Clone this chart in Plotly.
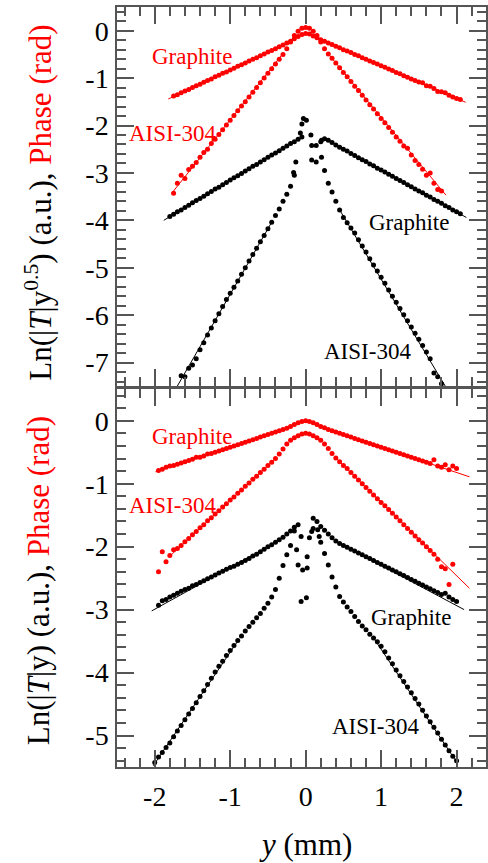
import plotly.graph_objects as go

# scan positions (mm), shared by all measured series
Y_POS = [-2.00, -1.95, -1.90, -1.85, -1.80, -1.75, -1.70, -1.65, -1.60, -1.55,
         -1.50, -1.45, -1.40, -1.35, -1.30, -1.25, -1.20, -1.15, -1.10, -1.05,
         -1.00, -0.95, -0.90, -0.85, -0.80, -0.75, -0.70, -0.65, -0.60, -0.55,
         -0.50, -0.45, -0.40, -0.35, -0.30, -0.25, -0.20, -0.15, -0.10, -0.05,
         0.00, 0.05, 0.10, 0.15, 0.20, 0.25, 0.30, 0.35, 0.40, 0.45,
         0.50, 0.55, 0.60, 0.65, 0.70, 0.75, 0.80, 0.85, 0.90, 0.95,
         1.00, 1.05, 1.10, 1.15, 1.20, 1.25, 1.30, 1.35, 1.40, 1.45,
         1.50, 1.55, 1.60, 1.65, 1.70, 1.75, 1.80, 1.85, 1.90, 1.95,
         2.00, 2.05]

# --- upper panel: Ln(|T| y^0.5) and phase ---
TOP_PHASE_GRAPHITE = [None, None, None, None, None, -1.38, -1.35, -1.31, -1.27, -1.24,
                      -1.20, -1.16, -1.13, -1.09, -1.05, -1.02, -0.97, -0.94, -0.90, -0.87,
                      -0.83, -0.79, -0.75, -0.72, -0.68, -0.64, -0.60, -0.57, -0.53, -0.49,
                      -0.45, -0.42, -0.38, -0.34, -0.30, -0.26, -0.22, -0.17, -0.12, -0.08,
                      -0.06, -0.07, -0.11, -0.15, -0.19, -0.22, -0.26, -0.29, -0.33, -0.36,
                      -0.40, -0.43, -0.46, -0.50, -0.53, -0.57, -0.60, -0.64, -0.67, -0.70,
                      -0.74, -0.77, -0.81, -0.84, -0.88, -0.91, -0.95, -0.98, -1.02, -1.05,
                      -1.08, -1.10, -1.16, -1.17, -1.22, -1.28, -1.29, -1.31, -1.36, -1.40,
                      -1.43, -1.45]
TOP_PHASE_AISI = [None, None, None, None, None, -3.43, -3.22, -3.05, -3.12, -2.93,
                  -2.86, -2.78, -2.67, -2.57, -2.50, -2.38, -2.29, -2.19, -2.09, -1.99,
                  -1.89, -1.79, -1.69, -1.59, -1.50, -1.40, -1.30, -1.20, -1.10, -1.00,
                  -0.90, -0.80, -0.70, -0.60, -0.50, -0.38, -0.24, -0.10, -0.01, 0.05,
                  0.07, 0.05, -0.01, -0.10, -0.24, -0.38, -0.49, -0.58, -0.68, -0.78,
                  -0.88, -0.97, -1.07, -1.17, -1.26, -1.36, -1.46, -1.56, -1.65, -1.75,
                  -1.85, -1.94, -2.04, -2.14, -2.24, -2.33, -2.43, -2.48, -2.62, -2.74,
                  -2.82, -2.92, -3.05, -3.00, -3.22, -3.35, -3.38, None, None, None,
                  None, None]
TOP_LN_GRAPHITE = [None, None, None, None, -3.92, -3.87, -3.82, -3.78, -3.73, -3.68,
                   -3.63, -3.58, -3.54, -3.49, -3.44, -3.39, -3.34, -3.30, -3.25, -3.20,
                   -3.15, -3.10, -3.06, -3.01, -2.96, -2.91, -2.86, -2.82, -2.77, -2.72,
                   -2.67, -2.62, -2.58, -2.53, -2.48, -2.43, -2.38, -2.34, -2.29, -2.24,
                   None, None, None, None, -2.34, -2.28, -2.31, -2.36, -2.41, -2.46,
                   -2.50, -2.54, -2.59, -2.63, -2.68, -2.72, -2.76, -2.81, -2.85, -2.90,
                   -2.94, -2.98, -3.03, -3.07, -3.12, -3.16, -3.20, -3.25, -3.29, -3.34,
                   -3.38, -3.42, -3.47, -3.51, -3.56, -3.60, -3.64, -3.69, -3.73, -3.78,
                   -3.82, -3.86]
TOP_LN_AISI = [None, None, None, None, None, None, None, -7.28, -7.30, -7.12,
               -7.05, -6.92, -6.73, -6.58, -6.42, -6.27, -6.12, -5.97, -5.82, -5.67,
               -5.54, -5.41, -5.28, -5.14, -5.00, -4.86, -4.72, -4.59, -4.45, -4.32,
               -4.18, -4.04, -3.90, -3.76, -3.60, -3.45, -3.28, -3.05, None, None,
               None, None, None, None, None, -2.95, -3.22, -3.40, -3.60, -3.78,
               -3.94, -4.05, -4.16, -4.27, -4.41, -4.54, -4.67, -4.81, -4.94, -5.07,
               -5.20, -5.33, -5.47, -5.60, -5.73, -5.86, -5.99, -6.12, -6.25, -6.38,
               -6.51, -6.64, -6.78, -6.92, -7.22, -7.30, -7.45, None, None, None,
               None, None]
# scattered points near y = 0 (upper panel, black)
TOP_CENTER_X = [-0.16, -0.13, -0.07, -0.05, -0.03, 0.01, 0.07, 0.08, 0.14, 0.21, 0.08, 0.14, 0.21]
TOP_CENTER_Y = [-2.99, -2.77, -2.16, -1.97, -1.85, -1.89, -2.20, -2.42, -2.42, -2.31, -2.73, -2.77, -2.67]

# --- lower panel: Ln(|T| y) and phase ---
BOT_PHASE_GRAPHITE = [None, -0.79, -0.77, -0.74, -0.72, -0.71, -0.69, -0.67, -0.65, -0.63,
                      -0.61, -0.58, -0.58, -0.56, -0.53, -0.52, -0.50, -0.48, -0.46, -0.44,
                      -0.42, -0.40, -0.38, -0.36, -0.34, -0.32, -0.30, -0.28, -0.26, -0.24,
                      -0.22, -0.20, -0.18, -0.16, -0.14, -0.12, -0.09, -0.06, -0.03, -0.01,
                      0.00, -0.01, -0.03, -0.06, -0.09, -0.11, -0.14, -0.16, -0.18, -0.20,
                      -0.22, -0.24, -0.26, -0.28, -0.30, -0.32, -0.34, -0.36, -0.38, -0.40,
                      -0.42, -0.44, -0.46, -0.48, -0.50, -0.52, -0.54, -0.56, -0.58, -0.60,
                      -0.62, -0.64, -0.66, -0.68, -0.62, -0.72, -0.74, -0.70, -0.78, -0.72,
                      -0.76, None]
BOT_PHASE_AISI = [None, -2.40, -2.08, -2.24, -2.14, -2.05, -2.03, -1.98, -1.92, -1.87,
                  -1.81, -1.76, -1.70, -1.65, -1.59, -1.54, -1.48, -1.43, -1.37, -1.32,
                  -1.26, -1.21, -1.15, -1.10, -1.04, -0.99, -0.93, -0.88, -0.82, -0.77,
                  -0.71, -0.66, -0.60, -0.53, -0.45, -0.37, -0.31, -0.27, -0.24, -0.21,
                  -0.20, -0.21, -0.24, -0.27, -0.31, -0.37, -0.44, -0.52, -0.59, -0.65,
                  -0.71, -0.76, -0.82, -0.88, -0.94, -1.00, -1.06, -1.12, -1.18, -1.24,
                  -1.30, -1.35, -1.41, -1.47, -1.53, -1.59, -1.65, -1.71, -1.77, -1.83,
                  -1.89, -1.94, -2.00, -2.06, -2.12, -2.20, -2.32, -2.35, -2.60, -2.28,
                  None, None]
BOT_LN_GRAPHITE = [None, -2.93, -2.86, -2.84, -2.80, -2.77, -2.74, -2.71, -2.68, -2.66,
                   -2.62, -2.60, -2.57, -2.54, -2.51, -2.48, -2.45, -2.42, -2.39, -2.36,
                   -2.33, -2.31, -2.28, -2.25, -2.22, -2.19, -2.15, -2.12, -2.08, -2.04,
                   -2.00, -1.97, -1.93, -1.89, -1.85, -1.80, -1.75, -1.69, -1.65, None,
                   None, None, -1.55, -1.60, -1.68, -1.74, -1.80, -1.86, -1.91, -1.95,
                   -1.98, -2.01, -2.04, -2.07, -2.10, -2.13, -2.16, -2.19, -2.22, -2.25,
                   -2.28, -2.31, -2.34, -2.37, -2.40, -2.43, -2.46, -2.49, -2.52, -2.55,
                   -2.58, -2.61, -2.64, -2.67, -2.70, -2.73, -2.76, -2.74, -2.80, -2.84,
                   -2.87, None]
BOT_LN_AISI = [-5.43, -5.34, -5.27, -5.19, -5.12, -5.02, -4.93, -4.84, -4.75, -4.66,
               -4.57, -4.48, -4.38, -4.29, -4.19, -4.09, -3.99, -3.90, -3.82, -3.73,
               -3.65, -3.57, -3.49, -3.42, -3.34, -3.27, -3.20, -3.13, -3.06, -2.98,
               -2.90, -2.80, -2.68, -2.50, -2.30, -2.13, -1.98, -1.75, None, None,
               None, None, None, None, -1.93, -2.11, -2.29, -2.48, -2.64, -2.79,
               -2.88, -2.96, -3.03, -3.11, -3.19, -3.26, -3.32, -3.39, -3.45, -3.51,
               -3.58, -3.67, -3.77, -3.86, -3.96, -4.05, -4.14, -4.23, -4.32, -4.41,
               -4.50, -4.60, -4.69, -4.78, -4.87, -4.96, -5.06, -5.15, -5.24, -5.33,
               -5.40, None]
BOT_CENTER_X = [-0.12, -0.06, -0.10, -0.04, 0.02, 0.02, -0.06, 0.01, 0.05, 0.08, 0.10, 0.16, 0.18]
BOT_CENTER_Y = [-2.05, -1.84, -2.29, -2.37, -2.34, -2.16, -2.87, -2.81, -1.86, -1.76, -1.71, -1.73, -1.84]

# linear fits on both sides (None breaks the line)
FIT_TOP_PH_GR_X = [-1.82, -0.35, None, 0.35, 2.12]
FIT_TOP_PH_GR_Y = [-1.44, -0.34, None, -0.29, -1.51]
FIT_TOP_PH_AI_X = [-1.77, -0.30, None, 0.30, 1.86]
FIT_TOP_PH_AI_Y = [-3.42, -0.48, None, -0.49, -3.47]
FIT_TOP_LN_GR_X = [-1.88, -0.30, None, 0.40, 2.13]
FIT_TOP_LN_GR_Y = [-4.00, -2.48, None, -2.41, -3.94]
FIT_TOP_LN_AI_X = [-1.72, -0.45, None, 0.45, 1.87]
FIT_TOP_LN_AI_Y = [-7.55, -4.04, None, -3.78, -7.55]
FIT_BOT_PH_GR_X = [-1.99, -0.30, None, 0.30, 2.17]
FIT_BOT_PH_GR_Y = [-0.81, -0.15, None, -0.14, -0.89]
FIT_BOT_PH_AI_X = [-1.80, -0.40, None, 0.40, 2.17]
FIT_BOT_PH_AI_Y = [-2.15, -0.60, None, -0.59, -2.66]
FIT_BOT_LN_GR_X = [-2.04, -0.50, None, 0.50, 2.10]
FIT_BOT_LN_GR_Y = [-3.02, -2.00, None, -1.98, -3.00]
FIT_BOT_LN_AI_X = [-2.02, -0.90, None, 0.90, 2.00]
FIT_BOT_LN_AI_Y = [-5.48, -3.50, None, -3.45, -5.42]

X_TICKS = [-2, -1, 0, 1, 2]
X_TICKTEXT = ['-2', '-1', '0', '1', '2']
TOP_Y_TICKS = [0, -1, -2, -3, -4, -5, -6, -7]
TOP_Y_TICKTEXT = ['0', '-1', '-2', '-3', '-4', '-5', '-6', '-7']
BOT_Y_TICKS = [0, -1, -2, -3, -4, -5]
BOT_Y_TICKTEXT = ['0', '-1', '-2', '-3', '-4', '-5']

RED = '#ff0000'
BLACK = '#000000'
AXC = '#555555'
FONT = 'Liberation Serif'

fig = go.Figure()


def add_dots(x, y, color, xa, ya):
    fig.add_trace(go.Scatter(x=x, y=y, mode='markers', xaxis=xa, yaxis=ya,
                             marker=dict(size=5, color=color), showlegend=False))


def add_fit(x, y, color, xa, ya):
    fig.add_trace(go.Scatter(x=x, y=y, mode='lines', xaxis=xa, yaxis=ya,
                             line=dict(color=color, width=1), showlegend=False, connectgaps=False))


# 上段
add_fit(FIT_TOP_PH_GR_X, FIT_TOP_PH_GR_Y, RED, 'x2', 'y2')
add_fit(FIT_TOP_PH_AI_X, FIT_TOP_PH_AI_Y, RED, 'x2', 'y2')
add_fit(FIT_TOP_LN_GR_X, FIT_TOP_LN_GR_Y, BLACK, 'x2', 'y2')
add_fit(FIT_TOP_LN_AI_X, FIT_TOP_LN_AI_Y, BLACK, 'x2', 'y2')
add_dots(Y_POS, TOP_PHASE_GRAPHITE, RED, 'x2', 'y2')
add_dots(Y_POS, TOP_PHASE_AISI, RED, 'x2', 'y2')
add_dots(Y_POS, TOP_LN_GRAPHITE, BLACK, 'x2', 'y2')
add_dots(Y_POS, TOP_LN_AISI, BLACK, 'x2', 'y2')
add_dots(TOP_CENTER_X, TOP_CENTER_Y, BLACK, 'x2', 'y2')

# 下段
add_fit(FIT_BOT_PH_GR_X, FIT_BOT_PH_GR_Y, RED, 'x', 'y')
add_fit(FIT_BOT_PH_AI_X, FIT_BOT_PH_AI_Y, RED, 'x', 'y')
add_fit(FIT_BOT_LN_GR_X, FIT_BOT_LN_GR_Y, BLACK, 'x', 'y')
add_fit(FIT_BOT_LN_AI_X, FIT_BOT_LN_AI_Y, BLACK, 'x', 'y')
add_dots(Y_POS, BOT_PHASE_GRAPHITE, RED, 'x', 'y')
add_dots(Y_POS, BOT_PHASE_AISI, RED, 'x', 'y')
add_dots(Y_POS, BOT_LN_GRAPHITE, BLACK, 'x', 'y')
add_dots(Y_POS, BOT_LN_AISI, BLACK, 'x', 'y')
add_dots(BOT_CENTER_X, BOT_CENTER_Y, BLACK, 'x', 'y')

axis_common = dict(showline=True, linecolor=AXC, linewidth=1.5, mirror='ticks', ticks='inside',
                   ticklen=17, tickwidth=1.5, tickcolor=AXC, showgrid=False, zeroline=False,
                   tickfont=dict(family=FONT, size=28, color='black'))
minor_x = dict(ticks='inside', ticklen=9, tickwidth=1.5, tickcolor=AXC, tickmode='linear', tick0=0, dtick=0.2)

fig.update_layout(
    width=488, height=863,
    margin=dict(l=117, r=0, t=7, b=96),
    paper_bgcolor='white', plot_bgcolor='white',
    font=dict(family=FONT, color='black'),
    hovermode=False,
    xaxis=dict(domain=[0, 1], anchor='y', range=[-2.5, 2.39], tickvals=X_TICKS, ticktext=X_TICKTEXT,
               minor=minor_x, ticklabelstandoff=4, **axis_common),
    xaxis2=dict(domain=[0, 1], anchor='y2', matches='x', range=[-2.5, 2.39], tickvals=X_TICKS,
                showticklabels=False, minor=minor_x, **axis_common),
    yaxis=dict(domain=[0, 0.497], anchor='x', range=[-5.5, 0.5], tickvals=BOT_Y_TICKS, ticktext=BOT_Y_TICKTEXT,
               minor=minor_x, ticklabelstandoff=1, **axis_common),
    yaxis2=dict(domain=[0.501, 1], anchor='x2', range=[-7.5, 0.5], tickvals=TOP_Y_TICKS, ticktext=TOP_Y_TICKTEXT,
                minor=minor_x, ticklabelstandoff=1, **axis_common),
)

lab = dict(showarrow=False, font=dict(family=FONT, size=23), xanchor='center', yanchor='middle')
fig.add_annotation(x=-1.50, y=-0.55, xref='x2', yref='y2', text='Graphite', font_color=RED, **lab)
fig.add_annotation(x=-1.76, y=-2.16, xref='x2', yref='y2', text='AISI-304', font_color=RED, **lab)
fig.add_annotation(x=1.37, y=-4.05, xref='x2', yref='y2', text='Graphite', font_color=BLACK, **lab)
fig.add_annotation(x=0.82, y=-6.76, xref='x2', yref='y2', text='AISI-304', font_color=BLACK, **lab)
fig.add_annotation(x=-1.50, y=-0.245, xref='x', yref='y', text='Graphite', font_color=RED, **lab)
fig.add_annotation(x=-1.76, y=-1.34, xref='x', yref='y', text='AISI-304', font_color=RED, **lab)
fig.add_annotation(x=1.40, y=-3.125, xref='x', yref='y', text='Graphite', font_color=BLACK, **lab)
fig.add_annotation(x=0.93, y=-4.85, xref='x', yref='y', text='AISI-304', font_color=BLACK, **lab)

# 軸タイトル
fig.add_annotation(x=-0.213, y=0.743, xref='paper', yref='paper', textangle=-90, showarrow=False,
                   text='Ln(|<i>T</i>|y<sup>0.5</sup>) (a.u.), <span style="color:#ff0000">Phase (rad)</span>',
                   font=dict(family=FONT, size=31, color='black'), xanchor='center', yanchor='middle')
fig.add_annotation(x=-0.213, y=0.245, xref='paper', yref='paper', textangle=-90, showarrow=False,
                   text='Ln(|<i>T</i>|y) (a.u.), <span style="color:#ff0000">Phase (rad)</span>',
                   font=dict(family=FONT, size=31, color='black'), xanchor='center', yanchor='middle')
fig.add_annotation(x=0, y=-0.1026, xref='x', yref='paper', showarrow=False, text='<i>y</i> (mm)',
                   font=dict(family=FONT, size=31, color='black'), xanchor='center', yanchor='middle')

# ページ既定の余白 (8px) を消す
fig.write_html("out.html", config={'displayModeBar': False},
               post_script="document.body.style.margin='0';")
